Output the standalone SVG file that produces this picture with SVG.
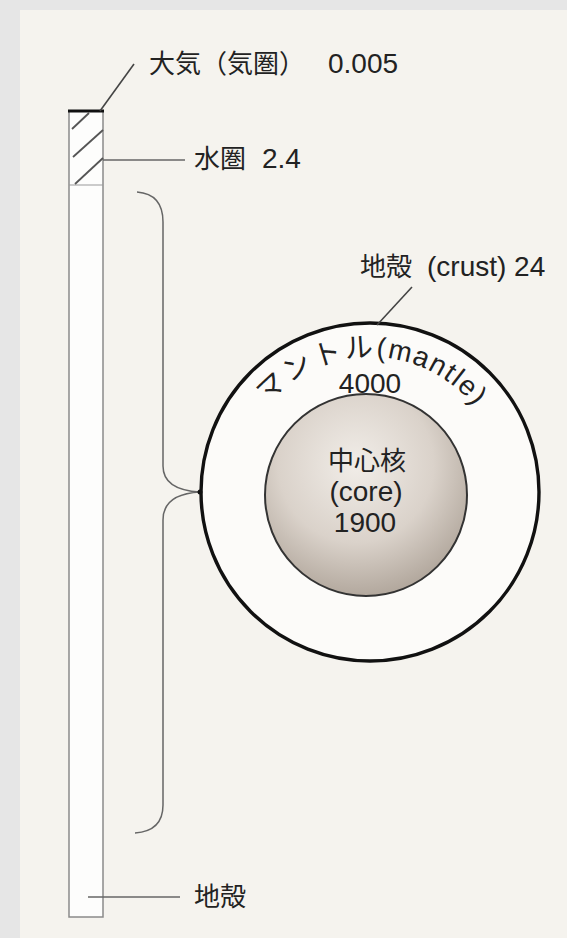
<svg xmlns="http://www.w3.org/2000/svg" width="567" height="938" viewBox="0 0 567 938">
  <defs>
    <radialGradient id="coreShade" cx="0.45" cy="0.35" r="0.7">
      <stop offset="0" stop-color="#f1ede8"/>
      <stop offset="0.55" stop-color="#dad2ca"/>
      <stop offset="1" stop-color="#aba095"/>
    </radialGradient>
    <path id="mantleArc" d="M253.1,424.5 A135,135 0 0 1 489.2,428.6"/>
  </defs>
  <style>
    .lbl { font-family: "Liberation Sans", "Noto Sans CJK JP", sans-serif; font-size: 28px; fill: #222; }
    .jp { font-family: "Noto Sans CJK JP", sans-serif; font-size: 26px; fill: #222; }
    .thin { fill: none; stroke: #666; stroke-width: 1.5; }
    .leader { fill: none; stroke: #444; stroke-width: 1.6; }
  </style>

  <!-- page -->
  <rect x="0" y="0" width="567" height="938" fill="#e6e6e6"/>
  <rect x="20" y="10" width="547" height="928" fill="#f5f3ee"/>

  <!-- column of layer thicknesses -->
  <g id="column">
    <rect x="69" y="111" width="34" height="806" fill="#fdfdfc" stroke="#8a8a8a" stroke-width="1.5"/>
    <line x1="69" y1="185" x2="103" y2="185" stroke="#9a9a9a" stroke-width="1.2"/>
    <g stroke="#555" stroke-width="1.8">
      <line x1="72" y1="129" x2="89" y2="113"/>
      <line x1="73" y1="157" x2="103" y2="130"/>
      <line x1="75" y1="184" x2="103" y2="158"/>
    </g>
    <line x1="68" y1="111" x2="104" y2="111" stroke="#111" stroke-width="3"/>
  </g>

  <!-- brace -->
  <g id="brace">
    <path class="thin" d="M137,192 Q163,194 163,222 L163,466 Q163,490 200,492 Q163,494 163,520 L163,805 Q163,831 135,833" stroke="#555" stroke-width="2"/>
  </g>

  <!-- earth cross-section -->
  <g id="earth">
    <circle cx="370" cy="492" r="169" fill="#fcfbf9" stroke="#111" stroke-width="3.4"/>
    <circle cx="366" cy="495" r="101" fill="url(#coreShade)" stroke="#333" stroke-width="2"/>
    <circle cx="200" cy="492" r="2.5" fill="#111"/>
  </g>

  <!-- connectors -->
  <g id="connectors">
    <line class="leader" x1="100" y1="111" x2="134" y2="64"/>
    <line class="thin" x1="103" y1="160" x2="185" y2="160"/>
    <line class="thin" x1="88" y1="897" x2="180" y2="897"/>
    <line class="leader" x1="377" y1="325" x2="412" y2="287"/>
  </g>

  <!-- labels -->
  <g id="label-atmosphere">
    <text class="jp" x="149" y="73">大気（気圏）</text>
    <text class="lbl" x="328" y="73">0.005</text>
  </g>
  <g id="label-water">
    <text class="jp" x="194" y="168">水圏</text>
    <text class="lbl" x="262" y="168">2.4</text>
  </g>
  <g id="label-crust">
    <text class="jp" x="360" y="276">地殻</text>
    <text class="lbl" x="427" y="276">(crust) 24</text>
  </g>
  <g id="label-mantle">
    <text class="lbl" font-size="26">
      <textPath href="#mantleArc" startOffset="50%" text-anchor="middle"><tspan letter-spacing="2.5">マントル</tspan><tspan letter-spacing="1.5">(mantle)</tspan></textPath>
    </text>
    <text class="lbl" x="370" y="393" text-anchor="middle" font-size="25">4000</text>
  </g>
  <g id="label-core">
    <text class="jp" x="367" y="470" text-anchor="middle" font-size="28">中心核</text>
    <text class="lbl" x="366" y="501" text-anchor="middle">(core)</text>
    <text class="lbl" x="365" y="532" text-anchor="middle">1900</text>
  </g>
  <g id="label-crust-bottom">
    <text class="jp" x="194" y="906">地殻</text>
  </g>
</svg>
